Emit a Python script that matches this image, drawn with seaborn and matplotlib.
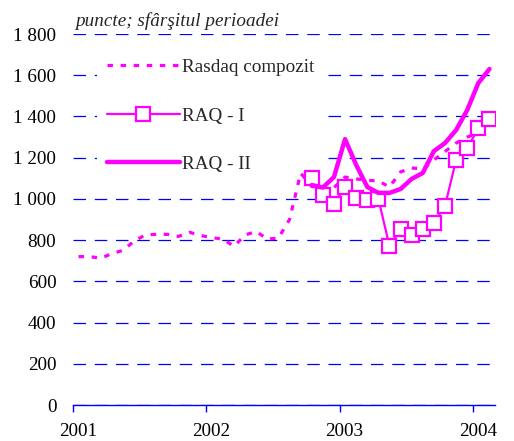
import numpy as np
import pandas as pd
import matplotlib
matplotlib.use("Agg")
import matplotlib.pyplot as plt
import seaborn as sns

# monthly values, Jan 2001 .. Feb 2004 (end of period)
rasdaq = [720, 720, 712, 735, 750, 795, 825, 828, 828, 818, 838, 822,
          812, 805, 770, 825, 842, 805, 810, 900, 1125, 1060,
          1050, 1055, 1106, 1097, 1090, 1087, 1058, 1131, 1150, 1145,
          1189, 1230, 1271, 1300, 1320, 1345]
raq1 = [1103, 1019, 974, 1059, 1003, 995, 1000, 771, 852, 825, 854,
        885, 966, 1189, 1245, 1343, 1386]
raq2 = [1067, 1055, 1106, 1290, 1165, 1058, 1029, 1029, 1048, 1097, 1126,
        1232, 1271, 1334, 1431, 1562, 1630]
raq_start = 21  # Oct 2002
year_labels = ["2001", "2002", "2003", "2004"]
y_ticks = [0, 200, 400, 600, 800, 1000, 1200, 1400, 1600, 1800]

n = len(rasdaq)
df_r = pd.DataFrame({"x": np.arange(n) + 0.5, "v": rasdaq})
df_1 = pd.DataFrame({"x": np.arange(raq_start, n) + 0.5, "v": raq1})
df_2 = pd.DataFrame({"x": np.arange(raq_start, n) + 0.5, "v": raq2})

sns.set_style("white")
plt.rcParams["font.family"] = ["Liberation Serif", "DejaVu Serif"]

mag = "#ff00ff"
blue = "#0000ff"
fs = 13.8

fig = plt.figure(figsize=(5.14, 4.41), dpi=100)
ax = fig.add_axes([0.142, 0.0816, 0.821, 0.8413])

sns.lineplot(data=df_r, x="x", y="v", ax=ax, color=mag, lw=2.3,
             dashes=False, label="Rasdaq compozit")
ax.lines[-1].set_dashes((1.7, 2.4))
sns.lineplot(data=df_1, x="x", y="v", ax=ax, color=mag, lw=1.6,
             marker="s", markersize=10, markerfacecolor="white",
             markeredgecolor=mag, markeredgewidth=1.6, label="RAQ - I")
sns.lineplot(data=df_2, x="x", y="v", ax=ax, color=mag, lw=3.2,
             solid_capstyle="round", label="RAQ - II")

ax.set_xlim(0, n)
ax.set_ylim(0, 1800)
ax.set_yticks(y_ticks)
ax.set_yticklabels([f"{v:,}".replace(",", " ") for v in y_ticks], fontsize=fs)
# year ticks at the start of each year, labels slightly to the right
ax.set_xticks([0, 12, 24, 36])
ax.set_xticklabels([])
ax.set_xticks([0.45, 12.45, 24.45, 36.45], minor=True)
ax.set_xticklabels(year_labels, minor=True, fontsize=fs)
ax.set_xlabel("")
ax.set_ylabel("")

ax.set_axisbelow(True)
ax.grid(axis="y", color=blue, linestyle=(0, (10, 7)), lw=0.9)
ax.grid(axis="x", visible=False)
for s in ["left", "top", "right"]:
    ax.spines[s].set_visible(False)
ax.spines["bottom"].set_color(blue)
ax.spines["bottom"].set_linewidth(1.0)
ax.tick_params(axis="x", which="major", colors=blue, direction="out",
               length=5, width=1, bottom=True)
ax.tick_params(axis="x", which="minor", length=0, pad=13, labelcolor="black")
ax.tick_params(axis="y", length=0, pad=12, labelcolor="black")

ax.text(0.005, 1.012, "puncte; sfârşitul perioadei", transform=ax.transAxes,
        fontsize=fs, style="italic", ha="left", va="bottom")

leg = ax.legend(loc="upper left", bbox_to_anchor=(0.035, 0.985), frameon=True,
                fontsize=fs, handlelength=3.8, labelspacing=1.62,
                handletextpad=0.1, borderpad=0.5)
leg.get_frame().set_edgecolor("none")
leg.get_frame().set_facecolor("white")
leg.get_frame().set_alpha(1)
leg.set_zorder(1)

fig.savefig("out.png", dpi=100)
